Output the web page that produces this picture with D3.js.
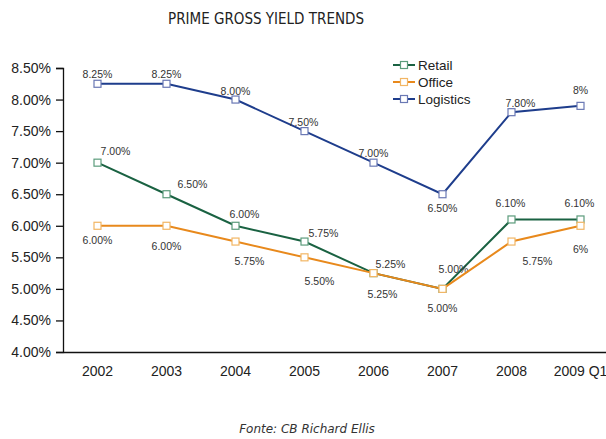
<!DOCTYPE html>
<html>
<head>
<meta charset="utf-8">
<script src="https://cdn.jsdelivr.net/npm/d3@7"></script>
<style>
  body { margin: 0; background: #fff; }
  svg { display: block; }
</style>
</head>
<body>
<svg id="chart" width="606" height="439"></svg>
<script>
// Data
const years = ['2002', '2003', '2004', '2005', '2006', '2007', '2008', '2009 Q1'];
const retail = [7.00, 6.50, 6.00, 5.75, 5.25, 5.00, 6.10, 6.10];
const office = [6.00, 6.00, 5.75, 5.50, 5.25, 5.00, 5.75, 6.00];
const logistics = [8.25, 8.25, 8.00, 7.50, 7.00, 6.50, 7.80, 7.90];
const retailLabels = ['7.00%', '6.50%', '6.00%', '5.75%', '5.25%', '5.00%', '6.10%', '6.10%'];
const officeLabels = ['6.00%', '6.00%', '5.75%', '5.50%', '5.25%', '5.00%', '5.75%', '6%'];
const logisticsLabels = ['8.25%', '8.25%', '8.00%', '7.50%', '7.00%', '6.50%', '7.80%', '8%'];
const yTicks = [4.0, 4.5, 5.0, 5.5, 6.0, 6.5, 7.0, 7.5, 8.0, 8.5];

// Label offsets (layout only)
const retailOffsets = [[18, -11], [26, -10], [9, -11], [19, -8], [17, -9], [11, -20], [-1, -16], [-1, -16]];
const officeOffsets = [[0, 15], [0, 21], [14, 20], [15, 24], [9, 21], [0, 19], [26, 20], [0, 24]];
const logisticsOffsets = [[0, -9], [0, -9], [0, -8], [-1, -9], [0, -9], [0, 14], [9, -9], [0, -16]];

const series = [
  { name: 'Retail', values: retail, labels: retailLabels, offsets: retailOffsets, color: '#1a6242', marker: '#5c9c7c' },
  { name: 'Office', values: office, labels: officeLabels, offsets: officeOffsets, color: '#e8891c', marker: '#f2b664' },
  { name: 'Logistics', values: logistics, labels: logisticsLabels, offsets: logisticsOffsets, color: '#1e3d8c', marker: '#6a78b4' }
];

const svg = d3.select('#chart');
const margin = { left: 63, right: -9, top: 68, bottom: 87 };
const width = 606 - margin.left - margin.right;
const height = 439 - margin.top - margin.bottom;

const g = svg.append('g').attr('transform', `translate(${margin.left},${margin.top})`);

const xScale = d3.scaleBand().domain(years).range([0, width]);
const yScale = d3.scaleLinear().domain([4, 8.5]).range([height, 0]);

// Title
svg.append('text')
  .attr('x', 266).attr('y', 24)
  .attr('text-anchor', 'middle')
  .attr('font-family', 'DejaVu Sans, sans-serif')
  .attr('font-size', 15)
  .attr('font-stretch', 'condensed')
  .attr('fill', '#222')
  .text('PRIME GROSS YIELD TRENDS');

// Y axis
const yAxis = d3.axisLeft(yScale).tickValues(yTicks).tickSize(7).tickFormat(d => d.toFixed(2) + '%');
const yG = g.append('g').call(yAxis);
yG.select('.domain').attr('stroke', '#111').attr('stroke-width', 1.3);
yG.selectAll('.tick line').attr('stroke', '#111').attr('stroke-width', 1.3);
yG.selectAll('text').attr('font-family', 'Liberation Sans, Arial, sans-serif')
  .attr('font-size', 14).attr('fill', '#222').attr('dx', -2);

// X axis
const xAxis = d3.axisBottom(xScale).tickSize(0).tickSizeOuter(0);
const xG = g.append('g').attr('transform', `translate(0,${height})`).call(xAxis);
xG.select('.domain').attr('stroke', '#111').attr('stroke-width', 1.3);
xG.selectAll('text').attr('font-family', 'Liberation Sans, Arial, sans-serif')
  .attr('font-size', 14).attr('fill', '#222').attr('dy', '1.5em');

const cx = d => xScale(d) + xScale.bandwidth() / 2;
const line = d3.line().x((d, i) => cx(years[i])).y(d => yScale(d));

// Lines, markers, labels
series.forEach(s => {
  g.append('path').datum(s.values)
    .attr('fill', 'none').attr('stroke', s.color).attr('stroke-width', 2)
    .attr('d', line);

  g.selectAll(null).data(s.values).enter().append('rect')
    .attr('x', (d, i) => cx(years[i]) - 3.5)
    .attr('y', d => yScale(d) - 3.5)
    .attr('width', 7).attr('height', 7)
    .attr('fill', '#fff').attr('stroke', s.marker).attr('stroke-width', 1.2);

  g.selectAll(null).data(s.values).enter().append('text')
    .attr('x', (d, i) => cx(years[i]) + s.offsets[i][0])
    .attr('y', (d, i) => yScale(d) + s.offsets[i][1])
    .attr('dy', '0.35em')
    .attr('text-anchor', 'middle')
    .attr('font-family', 'Liberation Sans, Arial, sans-serif')
    .attr('font-size', 10.5).attr('fill', '#333')
    .text((d, i) => s.labels[i]);
});

// Legend
const legend = svg.append('g').attr('transform', 'translate(393,65)');
series.forEach((s, i) => {
  const row = legend.append('g').attr('transform', `translate(0,${i * 17})`);
  row.append('line').attr('x1', 0).attr('x2', 22).attr('y1', 0).attr('y2', 0)
    .attr('stroke', s.color).attr('stroke-width', 2);
  row.append('rect').attr('x', 7.5).attr('y', -3.5).attr('width', 7).attr('height', 7)
    .attr('fill', '#fff').attr('stroke', s.marker).attr('stroke-width', 1.2);
  row.append('text').attr('x', 25).attr('y', 0).attr('dy', '0.35em')
    .attr('font-family', 'Liberation Sans, Arial, sans-serif')
    .attr('font-size', 13.5).attr('fill', '#222')
    .text(s.name);
});

// Source
svg.append('text')
  .attr('x', 307).attr('y', 433)
  .attr('text-anchor', 'middle')
  .attr('font-family', 'DejaVu Sans, sans-serif')
  .attr('font-style', 'italic')
  .attr('font-size', 12)
  .attr('fill', '#333')
  .text('Fonte: CB Richard Ellis');
</script>
</body>
</html>
